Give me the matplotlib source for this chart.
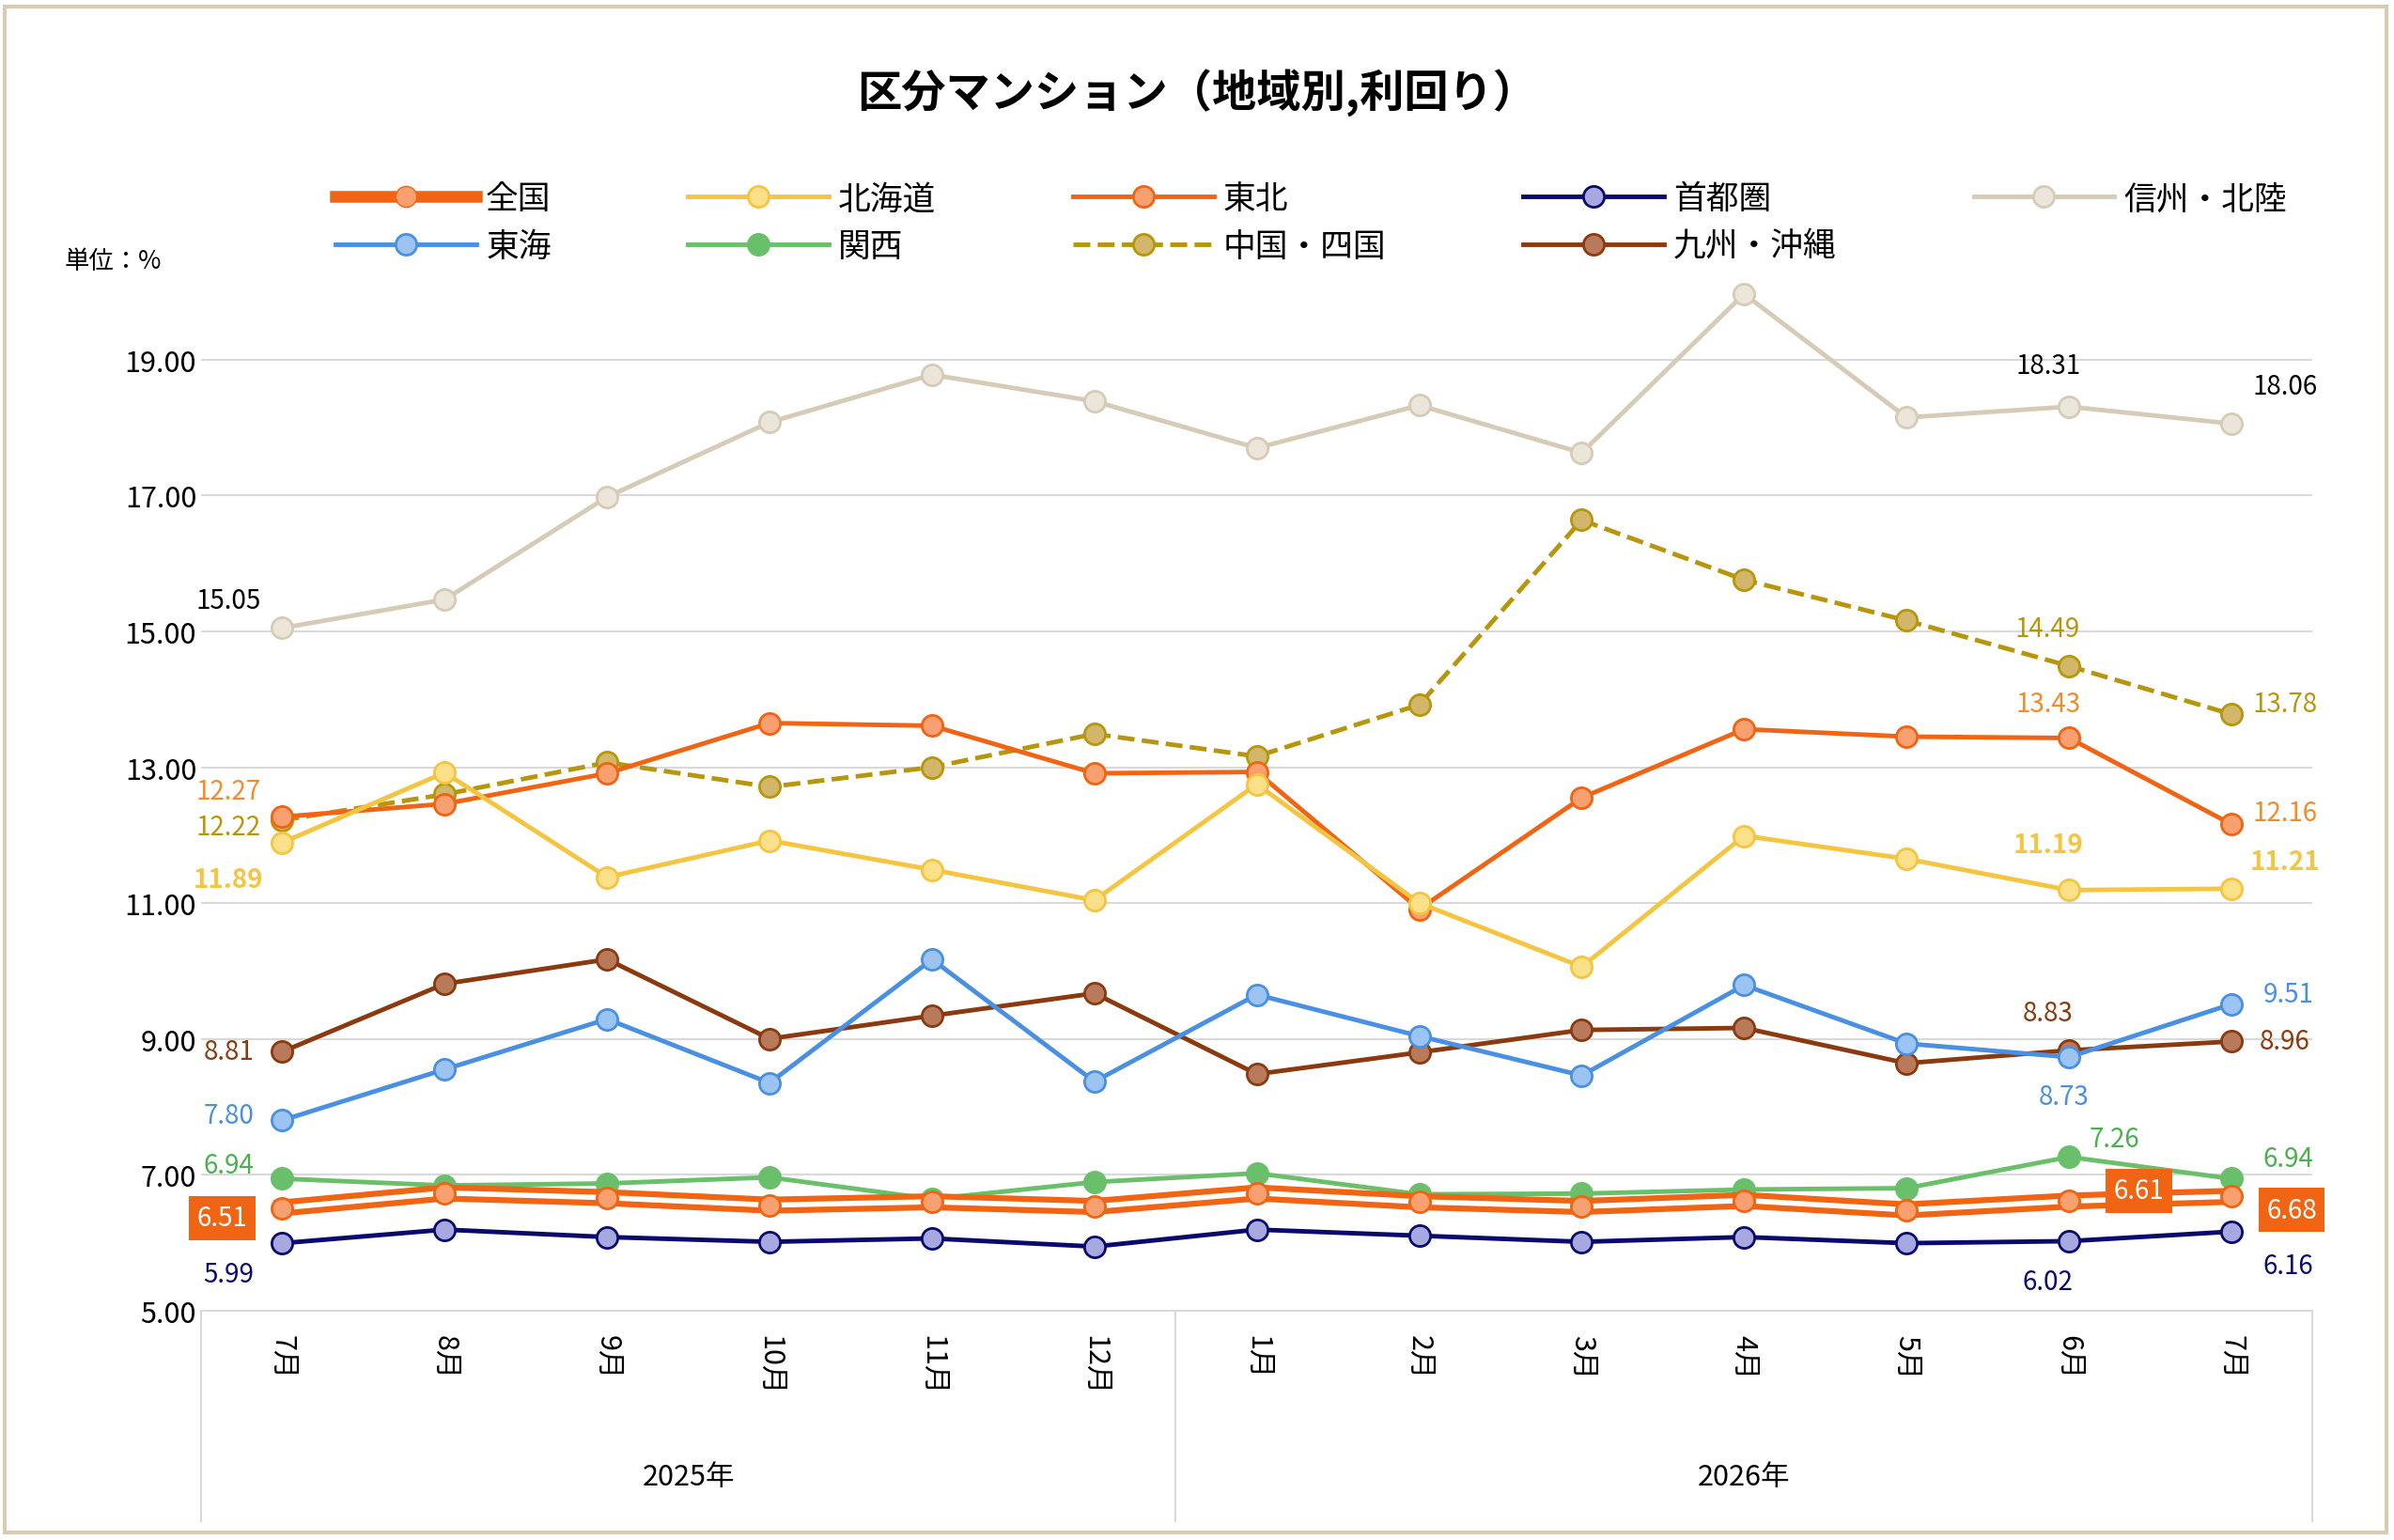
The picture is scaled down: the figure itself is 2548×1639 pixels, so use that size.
import matplotlib.pyplot as plt
from matplotlib.patches import Rectangle

plt.rcParams['font.family'] = ['Noto Sans CJK JP', 'DejaVu Sans']

months = ['7月', '8月', '9月', '10月', '11月', '12月', '1月', '2月', '3月', '4月', '5月', '6月', '7月']
years = ['2025年', '2026年']

zenkoku = [6.51, 6.73, 6.66, 6.55, 6.60, 6.53, 6.73, 6.60, 6.53, 6.62, 6.48, 6.61, 6.68]
hokkaido = [11.89, 12.92, 11.38, 11.92, 11.49, 11.04, 12.75, 11.00, 10.06, 11.99, 11.65, 11.19, 11.21]
tohoku = [12.27, 12.46, 12.91, 13.65, 13.61, 12.91, 12.93, 10.91, 12.55, 13.56, 13.45, 13.43, 12.16]
shutoken = [5.99, 6.19, 6.08, 6.01, 6.06, 5.94, 6.19, 6.10, 6.01, 6.08, 5.99, 6.02, 6.16]
shinshu = [15.05, 15.47, 16.98, 18.08, 18.78, 18.39, 17.70, 18.33, 17.63, 19.97, 18.15, 18.31, 18.06]
tokai = [7.80, 8.55, 9.29, 8.35, 10.17, 8.37, 9.65, 9.04, 8.46, 9.79, 8.93, 8.73, 9.51]
kansai = [6.94, 6.84, 6.87, 6.96, 6.64, 6.89, 7.02, 6.71, 6.72, 6.78, 6.80, 7.26, 6.94]
chugoku = [12.22, 12.60, 13.07, 12.71, 13.00, 13.49, 13.16, 13.92, 16.64, 15.76, 15.16, 14.49, 13.78]
kyushu = [8.81, 9.81, 10.17, 9.00, 9.34, 9.67, 8.48, 8.80, 9.13, 9.16, 8.64, 8.83, 8.96]

fig = plt.figure(figsize=(25.48, 16.4), dpi=100)
ax = fig.add_axes([0.084, 0.149, 0.882, 0.683])
x = list(range(len(months)))

def line(vals, color, face, name, ls='-'):
    ax.plot(x, vals, color=color, lw=3.5, ls=ls, marker='o', ms=16,
            mfc=face, mec=color, mew=2, label=name, zorder=3)

line(shinshu, '#d6cbb6', '#ece6da', '信州・北陸')
line(chugoku, '#b8960c', '#d2b76a', '中国・四国', ls='--')
line(tohoku, '#f06414', '#f8a070', '東北')
line(hokkaido, '#f5c440', '#fbe08a', '北海道')
line(kyushu, '#8b3a0f', '#b87a5a', '九州・沖縄')
line(tokai, '#4a90e2', '#9cc4f2', '東海')
line(kansai, '#6abf6a', '#6abf6a', '関西')
ax.plot(x, zenkoku, color='#f06414', lw=13, zorder=4)
ax.plot(x, zenkoku, color='white', lw=4, zorder=4)
ax.plot(x, zenkoku, ls='none', marker='o', ms=16, mfc='#f8a070', mec='#f06414', mew=2, zorder=5)
h_zen, = ax.plot([], [], color='#f06414', lw=9, marker='o', ms=16, mfc='#f8a070', mec='#f06414', label='全国')
line(shutoken, '#0a0a6e', '#a8a8e0', '首都圏')

ax.set_xlim(-0.5, 12.5)
ax.set_ylim(5, 20.5)
ax.set_yticks([5, 7, 9, 11, 13, 15, 17, 19])
ax.set_yticklabels([f'{v:.2f}' for v in [5, 7, 9, 11, 13, 15, 17, 19]], fontsize=22)
ax.yaxis.grid(True, color='#d9d9d9', lw=1.5)
ax.set_axisbelow(True)
for s in ['top', 'right', 'left']:
    ax.spines[s].set_visible(False)
ax.spines['bottom'].set_color('#d9d9d9')
ax.tick_params(length=0)
ax.set_xticks(x)
ax.set_xticklabels(months, rotation=270, fontsize=22)
ax.tick_params(axis='x', pad=18)

# category separators and year labels
for xv in [-0.5, 5.5, 12.5]:
    ax.plot([xv, xv], [5, 1.9], color='#d9d9d9', lw=1.5, clip_on=False)
ax.text(2.5, 2.55, years[0], ha='center', va='center', fontsize=22)
ax.text(9, 2.55, years[1], ha='center', va='center', fontsize=22)

def lab(i, v, color, dx=0, dy=0, bold=False):
    ax.text(i + dx, v + dy, f'{v:.2f}', color=color, fontsize=20, ha='center', va='center',
            fontweight='bold' if bold else 'normal', zorder=6)

lab(0, shinshu[0], 'black', -0.33, 0.4)
lab(11, shinshu[11], 'black', -0.13, 0.6)
lab(12, shinshu[12], 'black', 0.33, 0.55)
lab(0, chugoku[0], '#b8960c', -0.33, -0.1)
lab(11, chugoku[11], '#b8960c', -0.13, 0.55)
lab(12, chugoku[12], '#b8960c', 0.33, 0.15)
lab(0, tohoku[0], '#f28c28', -0.33, 0.38)
lab(11, tohoku[11], '#f28c28', -0.13, 0.5)
lab(12, tohoku[12], '#f28c28', 0.33, 0.17)
lab(0, hokkaido[0], '#f5c440', -0.33, -0.55, True)
lab(11, hokkaido[11], '#f5c440', -0.13, 0.67, True)
lab(12, hokkaido[12], '#f5c440', 0.33, 0.4, True)
lab(0, kyushu[0], '#8b3a0f', -0.33, 0)
lab(11, kyushu[11], '#8b3a0f', -0.13, 0.55)
lab(12, kyushu[12], '#8b3a0f', 0.33, 0)
lab(0, tokai[0], '#4a90e2', -0.33, 0.08)
lab(11, tokai[11], '#4a90e2', -0.03, -0.58)
lab(12, tokai[12], '#4a90e2', 0.35, 0.15)
lab(0, kansai[0], '#4caf50', -0.33, 0.2)
lab(11, kansai[11], '#4caf50', 0.28, 0.27)
lab(12, kansai[12], '#4caf50', 0.35, 0.3)
lab(0, shutoken[0], '#0a0a6e', -0.33, -0.45)
lab(11, shutoken[11], '#0a0a6e', -0.13, -0.6)
lab(12, shutoken[12], '#0a0a6e', 0.35, -0.5)
for i, dx in [(0, -0.37), (11, 0.43), (12, 0.37)]:
    ax.text(i + dx, zenkoku[i] + (0.15 if i == 11 else -0.15 if i == 0 else -0.2),
            f'{zenkoku[i]:.2f}', color='white', fontsize=20, ha='center', va='center',
            zorder=7, bbox=dict(boxstyle='square,pad=0.3', fc='#f06414', ec='none'))

handles, labels = ax.get_legend_handles_labels()
hd = dict(zip(labels, handles))
hd['全国'] = h_zen
# legend fills column by column, so this order gives the reference rows
order = ['全国', '東海', '北海道', '関西', '東北', '中国・四国', '首都圏', '九州・沖縄', '信州・北陸']
fig.legend([hd[k] for k in order], order, ncol=5, loc='upper left',
           bbox_to_anchor=(0.128, 0.9), frameon=False, fontsize=25,
           handlelength=4.3, handletextpad=0.3, columnspacing=4.2, labelspacing=0.45)

fig.text(0.5, 0.94, '区分マンション（地域別,利回り）', ha='center', va='center',
         fontsize=34, fontweight='bold')
fig.text(0.027, 0.83, '単位：%', fontsize=19, va='center')
fig.patches.append(Rectangle((0.002, 0.005), 0.995, 0.99, transform=fig.transFigure,
                             fill=False, ec='#d8ccb0', lw=3))

fig.savefig('out.png', dpi=100)
